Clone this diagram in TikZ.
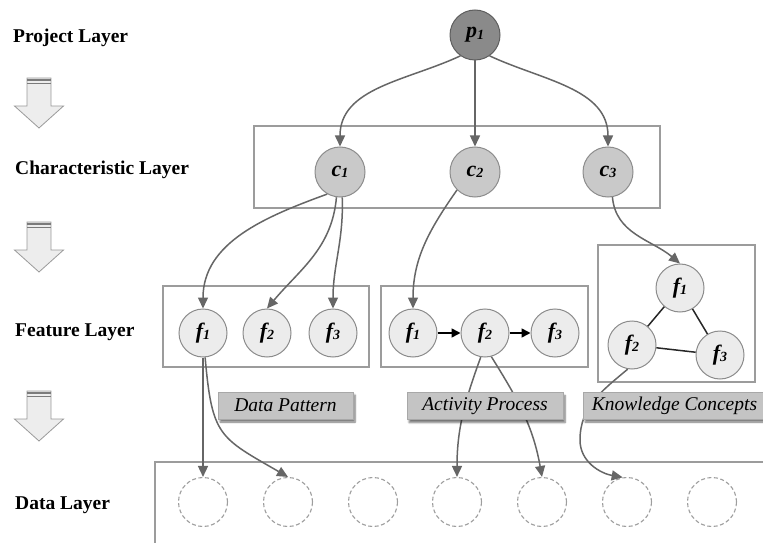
\documentclass[tikz,border=0pt]{standalone}
\usepackage{fontspec}
\setmainfont{Liberation Serif}
\usetikzlibrary{arrows.meta,shadows.blur}
\definecolor{pfill}{HTML}{8A8A8A}
\definecolor{pedge}{HTML}{5E5E5E}
\definecolor{cfill}{HTML}{C9C9C9}
\definecolor{cedge}{HTML}{8C8C8C}
\definecolor{ffill}{HTML}{ECECEC}
\definecolor{dedge}{HTML}{9E9E9E}
\definecolor{boxedge}{HTML}{9C9C9C}
\definecolor{arrgray}{HTML}{666666}
\definecolor{tagfill}{HTML}{C4C4C4}
\definecolor{tagedge}{HTML}{A8A8A8}
\definecolor{bigfill}{HTML}{EDEDED}
\definecolor{bigedge}{HTML}{9A9A9A}
\newcommand{\nodelab}[2]{{\fontsize{22}{22}\selectfont\bfseries\itshape #1\raisebox{-1.5pt}{\fontsize{14}{14}\selectfont #2}}}
\begin{document}
\begin{tikzpicture}[x=1pt,y=1pt,
  lay/.style={font=\fontsize{19.5}{20}\selectfont\bfseries, anchor=base west, inner sep=0pt},
  pnode/.style={circle, minimum size=50pt, inner sep=0pt, fill=pfill, draw=pedge, line width=1pt},
  cnode/.style={circle, minimum size=50pt, inner sep=0pt, fill=cfill, draw=cedge, line width=1pt},
  fnode/.style={circle, minimum size=48pt, inner sep=0pt, fill=ffill, draw=cedge, line width=1pt},
  dnode/.style={circle, minimum size=49pt, inner sep=0pt, draw=dedge, dash pattern=on 4pt off 2.5pt, line width=1.1pt},
  lbox/.style={draw=boxedge, line width=1.2pt},
  garr/.style={draw=arrgray, line width=1.5pt, -{Triangle[length=11pt,width=10pt]}},
  barr/.style={draw=black, line width=1.6pt, -{Triangle[length=9pt,width=9pt]}},
  bline/.style={draw=black!85, line width=1.5pt},
  tag/.style={fill=tagfill, draw=tagedge, line width=0.6pt, inner sep=0pt, minimum height=27pt,
    font=\fontsize{19.5}{20}\selectfont\itshape,
    blur shadow={shadow xshift=2pt, shadow yshift=-3pt, shadow blur steps=6, shadow opacity=55}},
  downarr/.pic={
    \draw[fill=bigfill, draw=bigedge, line width=0.8pt] (-12,0) -- (12,0) -- (12,-28) -- (24.5,-28) -- (0,-50) -- (-24.5,-28) -- (-12,-28) -- cycle;
    \draw[bigedge!80!black, line width=1.3pt] (-12,-2) -- (12,-2) (-12,-5.5) -- (12,-5.5);
  }
]
\useasboundingbox (0,0) rectangle (763,542);

% layer names
\node[lay] (lp) at (13,499) {Project Layer};
\node[lay] (lc) at (15,367) {Characteristic Layer};
\node[lay] (lf) at (15,206) {Feature Layer};
\node[lay] (ld) at (15,33) {Data Layer};

% big hollow arrows
\pic at (39,464) {downarr};
\pic at (39,320) {downarr};
\pic at (39,151) {downarr};

% layer boxes
\draw[lbox] (254,334) rectangle (660,416);
\draw[lbox] (163,175) rectangle (369,256);
\draw[lbox] (381,175) rectangle (588,256);
\draw[lbox] (598,160) rectangle (755,297);
\draw[lbox] (800,80) -- (155,80) -- (155,-10);

% nodes
\node[pnode] (p1) at (475,507) {\nodelab{p}{1}};
\node[cnode] (c1) at (340,370) {\nodelab{c}{1}};
\node[cnode] (c2) at (475,370) {\nodelab{c}{2}};
\node[cnode] (c3) at (608,370) {\nodelab{c}{3}};

\node[fnode] (fa1) at (203,209) {\nodelab{f}{1}};
\node[fnode] (fa2) at (267,209) {\nodelab{f}{2}};
\node[fnode] (fa3) at (333,209) {\nodelab{f}{3}};

\node[fnode] (fb1) at (413,209) {\nodelab{f}{1}};
\node[fnode] (fb2) at (485,209) {\nodelab{f}{2}};
\node[fnode] (fb3) at (555,209) {\nodelab{f}{3}};

\node[fnode] (fc1) at (680,254) {\nodelab{f}{1}};
\node[fnode] (fc2) at (632,197) {\nodelab{f}{2}};
\node[fnode] (fc3) at (720,187) {\nodelab{f}{3}};

\foreach \i/\x in {1/203,2/288,3/373,4/457,5/542,6/627,7/712}
  \node[dnode] (d\i) at (\x,40) {};

% project -> characteristic
\draw[garr] (p1.-125) to[out=-155,in=90] (c1.north);
\draw[garr] (p1.south) -- (c2.north);
\draw[garr] (p1.-55) to[out=-25,in=90] (c3.north);

% characteristic -> feature
\draw[garr] (c1.-120) to[out=-160,in=90] (fa1.north);
\draw[garr] (c1.-98) to[out=-95,in=50] (fa2.north);
\draw[garr] (c1.-85) to[out=-88,in=90] (fa3.north);
\draw[garr] (c2.-135) to[out=-125,in=90] (fb1.north);
\draw[garr] (c3.-80) to[out=-85,in=140] (fc1.north);

% inside feature boxes
\draw[barr] (fb1) -- (fb2);
\draw[barr] (fb2) -- (fb3);
\draw[bline] (fc1) -- (fc2);
\draw[bline] (fc1) -- (fc3);
\draw[bline] (fc2) -- (fc3);

% feature -> data
\draw[garr] (fa1.south) -- (d1.north);
\draw[garr] (fa1.-85) to[out=-85,in=150,looseness=1.4] (d2.north);
\draw[garr] (fb2.-100) to[out=-110,in=90] (d4.north);
\draw[garr] (fb2.-75) to[out=-58,in=100] (d5.north);
\coordinate (kc) at (580,102);
\draw[garr] (fc2.-100) to[out=-140,in=90] (kc) to[out=-90,in=170] (d6.100);

% tags
\node[tag, minimum width=135pt] (tdp) at (285.5,136.5) {Data Pattern};
\node[tag, minimum width=156pt] (tap) at (485,136) {Activity Process};
\node[tag, minimum width=183pt] (tkc) at (674.5,136.5) {Knowledge Concepts};
\end{tikzpicture}
\end{document}
